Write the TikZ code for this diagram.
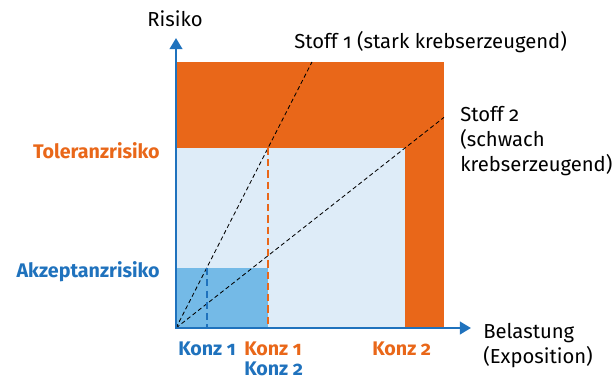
\documentclass[tikz,border=0pt]{standalone}
\usepackage{fontspec}
\setmainfont{Fira Sans}[Numbers=OldStyle]
\usepackage{tikz}
\usetikzlibrary{positioning, arrows.meta, calc}

\definecolor{riskorange}{RGB}{233,103,25}
\definecolor{risklight}{RGB}{222,236,248}
\definecolor{riskmid}{RGB}{116,186,231}
\definecolor{axisblue}{RGB}{31,114,189}

\begin{document}
\begin{tikzpicture}[
        x=0.025cm,
        y=-0.025cm,
        font=\fontsize{14.4}{17.7}\selectfont,
        axis/.style={
            axisblue,
            line width=1.8pt,
            -{Triangle[length=8pt, width=9pt]}
        },
        substance/.style={
            black,
            densely dashed,
            line width=0.6pt
        },
        marker/.style={
            line width=1.6pt,
            dash pattern=on 5pt off 3pt
        },
        risklabel/.style={
            font=\fontsize{14}{17}\selectfont\bfseries,
            anchor=base east,
            inner sep=0pt
        },
        konz/.style={
            font=\fontsize{14}{13.6}\selectfont\bfseries,
            align=left,
            anchor=north west,
            inner sep=0pt
        },
        plain/.style={
            align=left,
            anchor=north west,
            inner sep=0pt
        }
    ]

    \useasboundingbox (0,0) rectangle (616,380);

    % --------------------------------------------------------
    % Reference points
    % --------------------------------------------------------

    \coordinate (origin) at (176,328);
    \coordinate (ytip) at (176,38);
    \coordinate (xtip) at (471,328);
    \coordinate (tol1) at (268,148);
    \coordinate (tol2) at (405,148);
    \coordinate (akz1) at (207,268);

    % --------------------------------------------------------
    % Risk zones
    % --------------------------------------------------------

    \fill[riskorange] (176,62) rectangle (444,328);
    \fill[risklight] (176,148) rectangle (405,328);
    \fill[riskmid] (176,268) rectangle (268,328);

    % --------------------------------------------------------
    % Dose-response lines
    % --------------------------------------------------------

    \draw[substance]
    (origin)
    -- ($(origin)!1.478!(tol1)$);

    \draw[substance]
    (origin)
    -- ($(origin)!1.17!(tol2)$);

    % --------------------------------------------------------
    % Concentration markers
    % --------------------------------------------------------

    \draw[marker, axisblue]
    (akz1)
    -- (akz1 |- origin);

    \draw[marker, riskorange]
    (tol1)
    -- (tol1 |- origin);

    % --------------------------------------------------------
    % Axes
    % --------------------------------------------------------

    \draw[axis] (origin) -- (ytip);
    \draw[axis] ($(origin)+(-1,0)$) -- (xtip);

    \node[anchor=base] (risiko) at (175,27) {Risiko};

    \node[plain] (belastung) at (483,323)
    {Belastung\\(Exposition)};

    % --------------------------------------------------------
    % Labels
    % --------------------------------------------------------

    \node[plain] (stoff1) at (294,31)
    {Stoff 1 (stark krebserzeugend)};

    \node[plain] (stoff2) at (460,106)
    {Stoff 2\\(schwach\\krebserzeugend)};

    \node[risklabel, riskorange] (toleranz) at (160,158)
    {Toleranzrisiko};

    \node[risklabel, axisblue] (akzeptanz) at (160,277)
    {Akzeptanzrisiko};

    \node[konz, axisblue] (konzA) at (178,342) {Konz 1};
    \node[konz] (konzB) at (244,342)
    {\textcolor{riskorange}{Konz 1}\\\textcolor{axisblue}{Konz 2}};
    \node[konz, riskorange] (konzD) at (372,342) {Konz 2};

\end{tikzpicture}
\end{document}
